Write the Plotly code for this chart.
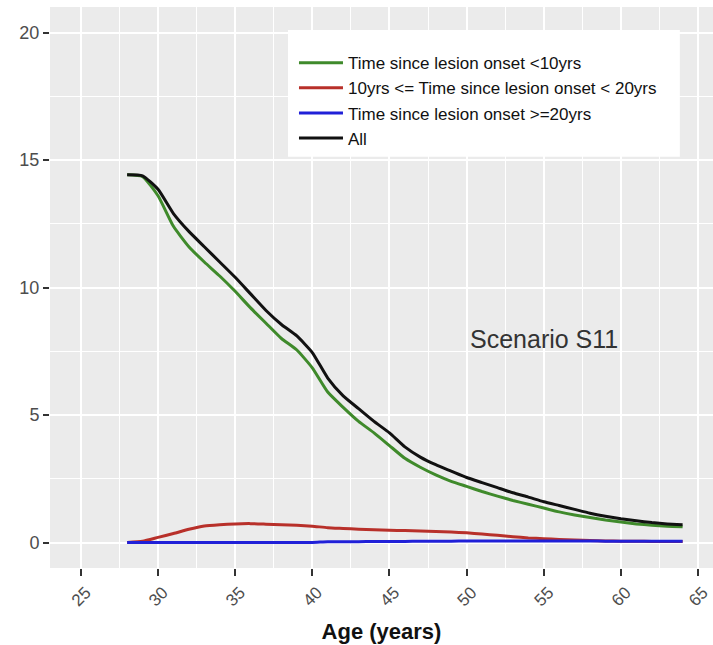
import plotly.graph_objects as go

ages = list(range(28, 65))

all_vals = [14.42, 14.38, 13.85, 12.9, 12.2, 11.6, 11.0, 10.4, 9.75, 9.1,
            8.55, 8.1, 7.45, 6.45, 5.75, 5.25, 4.75, 4.3, 3.75, 3.35,
            3.05, 2.8, 2.55, 2.35, 2.15, 1.95, 1.78, 1.6, 1.45, 1.3,
            1.15, 1.03, 0.93, 0.85, 0.78, 0.73, 0.70]

lt10_vals = [14.42, 14.35, 13.6, 12.4, 11.6, 11.0, 10.45, 9.85, 9.2, 8.6,
             8.0, 7.55, 6.85, 5.9, 5.3, 4.75, 4.3, 3.8, 3.3, 2.95,
             2.65, 2.4, 2.2, 2.0, 1.82, 1.65, 1.5, 1.35, 1.2, 1.08,
             0.98, 0.88, 0.8, 0.73, 0.68, 0.64, 0.62]

mid_vals = [0.0, 0.05, 0.2, 0.35, 0.52, 0.65, 0.7, 0.73, 0.74, 0.72,
            0.70, 0.68, 0.64, 0.58, 0.55, 0.52, 0.50, 0.48, 0.47, 0.45,
            0.43, 0.41, 0.38, 0.33, 0.28, 0.23, 0.18, 0.15, 0.12, 0.10,
            0.08, 0.06, 0.05, 0.05, 0.04, 0.04, 0.04]

ge20_vals = [0.0, 0.0, 0.0, 0.0, 0.0, 0.0, 0.0, 0.0, 0.0, 0.0,
             0.0, 0.0, 0.0, 0.03, 0.03, 0.03, 0.04, 0.04, 0.04, 0.05,
             0.05, 0.05, 0.06, 0.06, 0.06, 0.06, 0.06, 0.06, 0.06, 0.06,
             0.06, 0.05, 0.05, 0.05, 0.05, 0.05, 0.05]

series_names = ["Time since lesion onset <10yrs",
                "10yrs <= Time since lesion onset < 20yrs",
                "Time since lesion onset >=20yrs",
                "All"]
series_vals = [lt10_vals, mid_vals, ge20_vals, all_vals]
series_colors = ["#3f8a2b", "#b8302a", "#2020d8", "#111111"]

x_ticks = [25, 30, 35, 40, 45, 50, 55, 60, 65]
y_ticks = [0, 5, 10, 15, 20]

FONT = "Liberation Sans, Arial, sans-serif"

fig = go.Figure()
for i, (name, vals, col) in enumerate(zip(series_names, series_vals, series_colors)):
    fig.add_trace(go.Scatter(
        x=ages, y=vals, mode="lines", name=name,
        line=dict(color=col, width=3, shape="spline", smoothing=0.5),
        legendgroup=f"g{i}",
    ))

fig.update_layout(
    width=713, height=645,
    margin=dict(l=50, r=0, t=7, b=77),
    paper_bgcolor="white",
    plot_bgcolor="#EBEBEB",
    font=dict(family=FONT, color="#4d4d4d"),
    showlegend=True,
    legend=dict(
        x=0.368, y=0.932, xanchor="left", yanchor="top",
        bgcolor="rgba(0,0,0,0)", borderwidth=0,
        font=dict(size=17, color="#111111", family=FONT),
        tracegroupgap=0, itemwidth=44,
    ),
    shapes=[dict(
        type="rect", xref="paper", yref="paper",
        x0=0.359, x1=0.950, y0=0.733, y1=0.959,
        fillcolor="white", line=dict(width=0), layer="above",
    )],
    annotations=[dict(
        x=55, y=8, xref="x", yref="y", text="Scenario S11",
        showarrow=False, font=dict(size=25, color="#333333", family=FONT),
        xanchor="center", yanchor="middle",
    )],
)

fig.update_xaxes(
    range=[23.0, 65.97],
    tickvals=x_ticks, ticktext=[str(v) for v in x_ticks],
    tickangle=-45, ticks="outside", ticklen=7, tickwidth=2, tickcolor="#333333",
    tickfont=dict(size=17, color="#4d4d4d"),
    ticklabelshift=5,
    showgrid=True, gridcolor="white", gridwidth=2,
    minor=dict(dtick=2.5, tick0=22.5, showgrid=True, gridcolor="white", gridwidth=1, ticks=""),
    zeroline=False, showline=False,
    title=dict(text="<b>Age (years)</b>", font=dict(size=22, color="#111111"), standoff=14),
)
fig.update_yaxes(
    range=[-1, 21],
    tickvals=y_ticks, ticktext=[str(v) for v in y_ticks],
    ticks="outside", ticklen=6, tickwidth=2, tickcolor="#333333",
    tickfont=dict(size=18, color="#4d4d4d"),
    showgrid=True, gridcolor="white", gridwidth=2,
    minor=dict(dtick=2.5, tick0=0, showgrid=True, gridcolor="white", gridwidth=1, ticks=""),
    zeroline=False, showline=False,
)

fig.write_html("out.html")
